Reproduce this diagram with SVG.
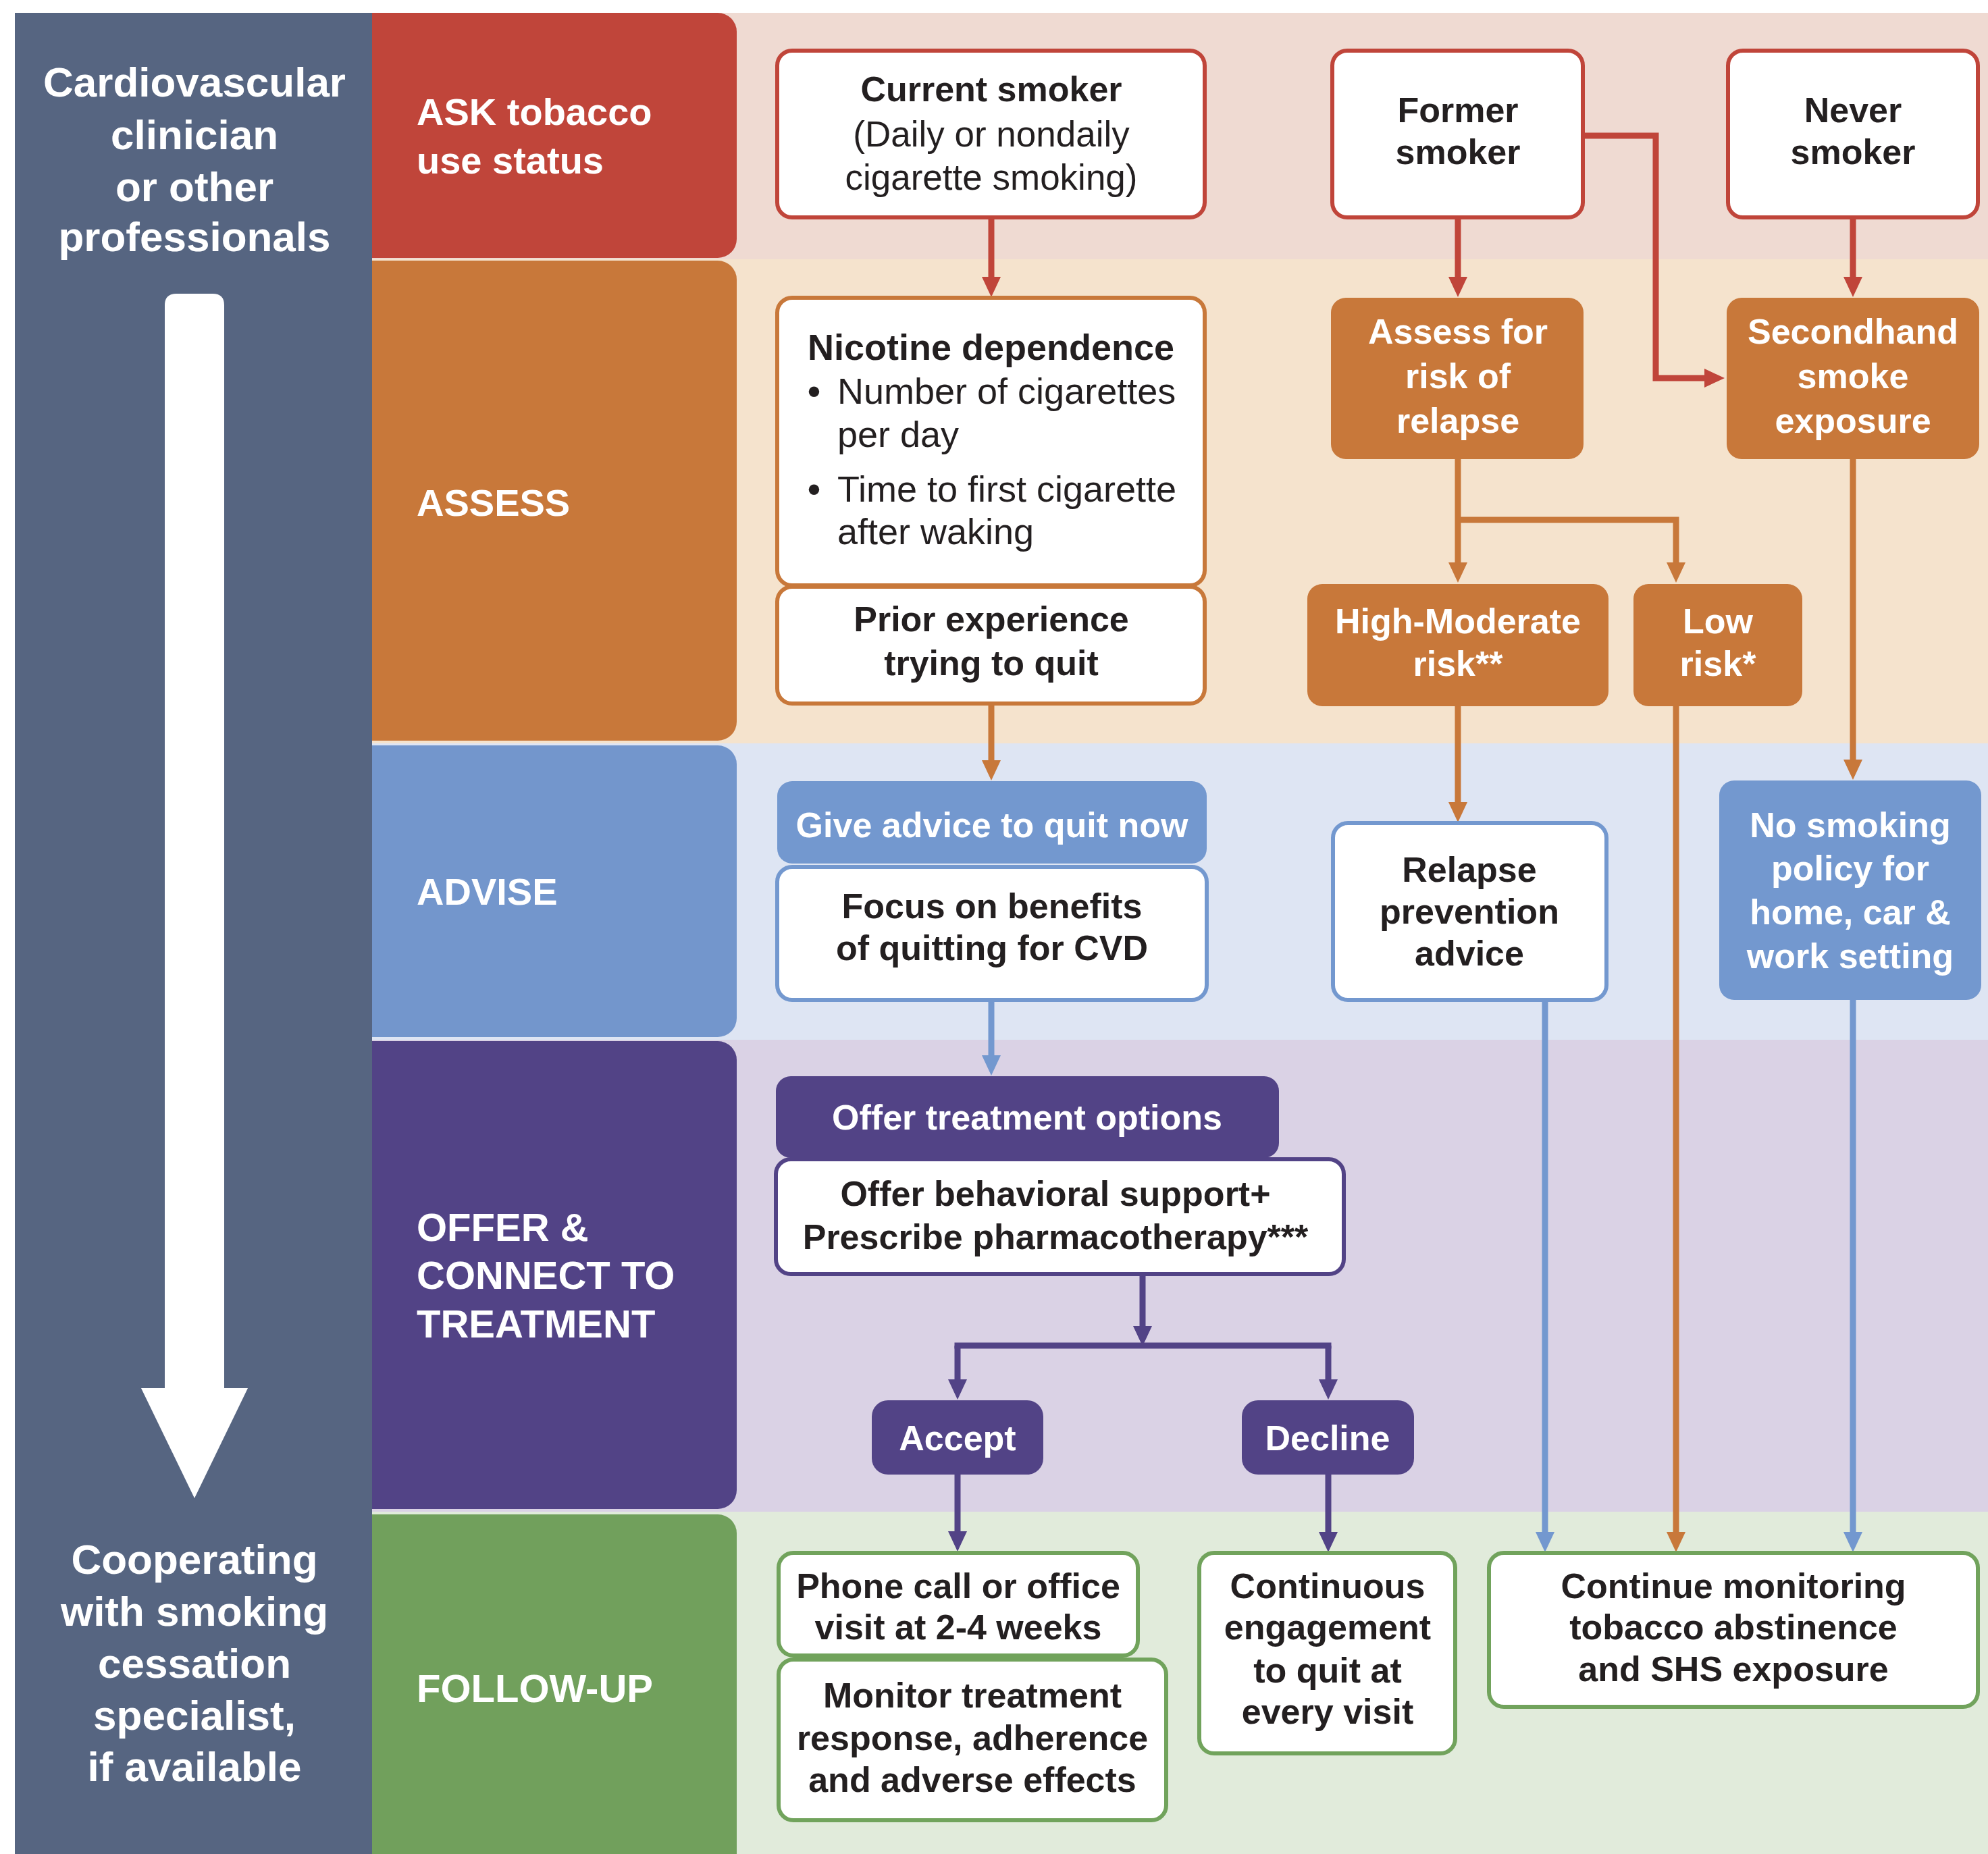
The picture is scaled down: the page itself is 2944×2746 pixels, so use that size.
<svg xmlns="http://www.w3.org/2000/svg" width="2944" height="2746" viewBox="0 0 2944 2746">
<style>
.ph{font-family:"Liberation Sans",Arial,sans-serif;font-weight:bold;font-size:56px;fill:#fff}
.ph2{font-family:"Liberation Sans",Arial,sans-serif;font-weight:bold;font-size:58px;fill:#fff}
.lc{font-family:"Liberation Sans",Arial,sans-serif;font-weight:bold;font-size:62px;fill:#fff;text-anchor:middle}
.t{font-family:"Liberation Sans",Arial,sans-serif;font-size:53px;fill:#231f20;text-anchor:middle}
.tb{font-family:"Liberation Sans",Arial,sans-serif;font-weight:bold;font-size:52px;fill:#231f20;text-anchor:middle}
.tl{font-family:"Liberation Sans",Arial,sans-serif;font-size:54px;fill:#231f20}
.w{font-family:"Liberation Sans",Arial,sans-serif;font-weight:bold;font-size:52px;fill:#fff;text-anchor:middle}
.bx{fill:#fff;stroke-width:6}
.red{stroke:#c0453a}.org{stroke:#c8783a}.blu{stroke:#7398cf}.pur{stroke:#524386}.grn{stroke:#71a35c}
.fo{fill:#c8783a}.fb{fill:#7398cf}.fp{fill:#524386}
.c{fill:none;stroke-width:9}
</style>
<defs>
<marker id="aR" markerUnits="userSpaceOnUse" markerWidth="30" markerHeight="28" viewBox="0 0 30 28" refX="6" refY="14" orient="auto"><path d="M0,0 L30,14 L0,28 z" fill="#c0453a"/></marker>
<marker id="aO" markerUnits="userSpaceOnUse" markerWidth="30" markerHeight="28" viewBox="0 0 30 28" refX="6" refY="14" orient="auto"><path d="M0,0 L30,14 L0,28 z" fill="#c8783a"/></marker>
<marker id="aB" markerUnits="userSpaceOnUse" markerWidth="30" markerHeight="28" viewBox="0 0 30 28" refX="6" refY="14" orient="auto"><path d="M0,0 L30,14 L0,28 z" fill="#7398cf"/></marker>
<marker id="aP" markerUnits="userSpaceOnUse" markerWidth="30" markerHeight="28" viewBox="0 0 30 28" refX="6" refY="14" orient="auto"><path d="M0,0 L30,14 L0,28 z" fill="#524386"/></marker>
</defs>
<rect x="0" y="0" width="2944" height="2746" fill="#fff"/>
<g id="bands">
<rect x="540" y="19" width="2404" height="366" fill="#efdad2"/>
<rect x="540" y="384" width="2404" height="717" fill="#f5e3cd"/>
<rect x="540" y="1101" width="2404" height="439" fill="#dee5f3"/>
<rect x="540" y="1540" width="2404" height="699" fill="#dad2e5"/>
<rect x="540" y="2239" width="2404" height="507" fill="#e1ebdb"/>
</g>
<g id="left-column">
<rect x="22" y="19" width="529" height="2727" fill="#566581"/>
<path d="M244,452 Q244,435 261,435 H315 Q332,435 332,452 V2056 H367 L288,2219 L209,2056 H244 Z" fill="#fff"/>
<text class="lc" x="288" y="143">Cardiovascular</text>
<text class="lc" x="288" y="221">clinician</text>
<text class="lc" x="288" y="298">or other</text>
<text class="lc" x="288" y="372">professionals</text>
<text class="lc" x="288" y="2331">Cooperating</text>
<text class="lc" x="288" y="2408">with smoking</text>
<text class="lc" x="288" y="2485">cessation</text>
<text class="lc" x="288" y="2562">specialist,</text>
<text class="lc" x="288" y="2638">if available</text>
</g>
<g id="phase-ask"><path d="M551,19 H1063 A28,28 0 0 1 1091,47 V354 A28,28 0 0 1 1063,382 H551 Z" fill="#c0453a"/>
<text class="ph" x="617" y="185">ASK tobacco</text><text class="ph" x="617" y="257">use status</text></g>
<g id="phase-assess"><path d="M551,386 H1063 A28,28 0 0 1 1091,414 V1069 A28,28 0 0 1 1063,1097 H551 Z" fill="#c8783a"/>
<text class="ph" x="617" y="764">ASSESS</text></g>
<g id="phase-advise"><path d="M551,1104 H1063 A28,28 0 0 1 1091,1132 V1508 A28,28 0 0 1 1063,1536 H551 Z" fill="#7396cc"/>
<text class="ph" x="617" y="1340">ADVISE</text></g>
<g id="phase-offer"><path d="M551,1542 H1063 A28,28 0 0 1 1091,1570 V2207 A28,28 0 0 1 1063,2235 H551 Z" fill="#524386"/>
<text class="ph2" x="617" y="1838">OFFER &amp;</text><text class="ph2" x="617" y="1909">CONNECT TO</text><text class="ph2" x="617" y="1981">TREATMENT</text></g>
<g id="phase-followup"><path d="M551,2243 H1063 A28,28 0 0 1 1091,2271 V2746 H551 Z" fill="#71a05c"/>
<text class="ph2" x="617" y="2521">FOLLOW-UP</text></g>
<g id="connectors">
<path class="c" stroke="#c0453a" d="M1468,322 V416" marker-end="url(#aR)"/>
<path class="c" stroke="#c0453a" d="M2159,322 V416" marker-end="url(#aR)"/>
<path class="c" stroke="#c0453a" d="M2744,322 V416" marker-end="url(#aR)"/>
<path class="c" stroke="#c0453a" d="M2344,201 H2452 V560 H2530" marker-end="url(#aR)"/>
<path class="c" stroke="#c8783a" d="M2159,680 V839" marker-end="url(#aO)"/>
<path class="c" stroke="#c8783a" d="M2159,770 H2482 V839" marker-end="url(#aO)"/>
<path class="c" stroke="#c8783a" d="M1468,1042 V1132" marker-end="url(#aO)"/>
<path class="c" stroke="#c8783a" d="M2744,680 V1131" marker-end="url(#aO)"/>
<path class="c" stroke="#c8783a" d="M2159,1046 V1194" marker-end="url(#aO)"/>
<path class="c" stroke="#c8783a" d="M2482,1046 V2275" marker-end="url(#aO)"/>
<path class="c" stroke="#7398cf" d="M1468,1481 V1569" marker-end="url(#aB)"/>
<path class="c" stroke="#7398cf" d="M2288,1481 V2275" marker-end="url(#aB)"/>
<path class="c" stroke="#7398cf" d="M2744,1481 V2275" marker-end="url(#aB)"/>
<path class="c" stroke="#524386" d="M1692,1887 V1970" marker-end="url(#aP)"/>
<path class="c" stroke="#524386" d="M1413.5,1993 H1971.5"/>
<path class="c" stroke="#524386" d="M1418,1993 V2049" marker-end="url(#aP)"/>
<path class="c" stroke="#524386" d="M1967,1993 V2049" marker-end="url(#aP)"/>
<path class="c" stroke="#524386" d="M1418,2184 V2274" marker-end="url(#aP)"/>
<path class="c" stroke="#524386" d="M1967,2184 V2275" marker-end="url(#aP)"/>
</g>
<g id="current-smoker"><rect class="bx red" x="1151" y="75" width="633" height="247" rx="22"/>
<text class="tb" x="1468" y="150">Current smoker</text><text class="t" x="1468" y="217">(Daily or nondaily</text><text class="t" x="1468" y="281">cigarette smoking)</text></g>
<g id="former-smoker"><rect class="bx red" x="1973" y="75" width="371" height="247" rx="22"/>
<text class="tb" x="2159" y="181">Former</text><text class="tb" x="2159" y="243">smoker</text></g>
<g id="never-smoker"><rect class="bx red" x="2559" y="75" width="370" height="247" rx="22"/>
<text class="tb" x="2744" y="181">Never</text><text class="tb" x="2744" y="243">smoker</text></g>
<g id="nicotine"><rect class="bx org" x="1151" y="441" width="633" height="426" rx="22"/>
<text class="tl" x="1196" y="533" font-weight="bold">Nicotine dependence</text>
<text class="tl" x="1196" y="598" font-weight="bold">•</text><text class="tl" x="1240" y="598">Number of cigarettes</text>
<text class="tl" x="1240" y="662">per day</text>
<text class="tl" x="1196" y="743" font-weight="bold">•</text><text class="tl" x="1240" y="743">Time to first cigarette</text>
<text class="tl" x="1240" y="806">after waking</text></g>
<g id="prior-experience"><rect class="bx org" x="1151" y="869" width="633" height="173" rx="22"/>
<text class="tb" x="1468" y="935">Prior experience</text><text class="tb" x="1468" y="1000">trying to quit</text></g>
<g id="assess-relapse"><rect class="fo" x="1971" y="441" width="374" height="239" rx="22"/>
<text class="w" x="2159" y="509">Assess for</text><text class="w" x="2159" y="575">risk of</text><text class="w" x="2159" y="641">relapse</text></g>
<g id="secondhand"><rect class="fo" x="2557" y="441" width="374" height="239" rx="22"/>
<text class="w" x="2744" y="509">Secondhand</text><text class="w" x="2744" y="575">smoke</text><text class="w" x="2744" y="641">exposure</text></g>
<g id="high-moderate"><rect class="fo" x="1936" y="865" width="446" height="181" rx="22"/>
<text class="w" x="2159" y="938">High-Moderate</text><text class="w" x="2159" y="1001">risk**</text></g>
<g id="low-risk"><rect class="fo" x="2419" y="865" width="250" height="181" rx="22"/>
<text class="w" x="2544" y="938">Low</text><text class="w" x="2544" y="1001">risk*</text></g>
<g id="give-advice"><rect class="fb" x="1151" y="1157" width="636" height="122" rx="22"/>
<text class="w" x="1469" y="1240">Give advice to quit now</text></g>
<g id="focus-benefits"><rect class="bx blu" x="1151" y="1284" width="636" height="197" rx="22"/>
<text class="tb" x="1469" y="1360">Focus on benefits</text><text class="tb" x="1469" y="1422">of quitting for CVD</text></g>
<g id="relapse-prevention"><rect class="bx blu" x="1974" y="1219" width="405" height="262" rx="22"/>
<text class="tb" x="2176" y="1306">Relapse</text><text class="tb" x="2176" y="1368">prevention</text><text class="tb" x="2176" y="1430">advice</text></g>
<g id="no-smoking-policy"><rect class="fb" x="2546" y="1156" width="388" height="325" rx="22"/>
<text class="w" x="2740" y="1240">No smoking</text><text class="w" x="2740" y="1304">policy for</text><text class="w" x="2740" y="1369">home, car &amp;</text><text class="w" x="2740" y="1434">work setting</text></g>
<g id="offer-options"><rect class="fp" x="1149" y="1594" width="745" height="121" rx="22"/>
<text class="w" x="1521" y="1673">Offer treatment options</text></g>
<g id="offer-behavioral"><rect class="bx pur" x="1149" y="1717" width="841" height="170" rx="22"/>
<text class="tb" x="1563" y="1786">Offer behavioral support+</text><text class="tb" x="1563" y="1850">Prescribe pharmacotherapy***</text></g>
<g id="accept"><rect class="fp" x="1291" y="2074" width="254" height="110" rx="24"/>
<text class="w" x="1418" y="2148">Accept</text></g>
<g id="decline"><rect class="fp" x="1839" y="2074" width="255" height="110" rx="24"/>
<text class="w" x="1966" y="2148">Decline</text></g>
<g id="phone-call"><rect class="bx grn" x="1153" y="2300" width="532" height="152" rx="22"/>
<text class="tb" x="1419" y="2367">Phone call or office</text><text class="tb" x="1419" y="2428">visit at 2-4 weeks</text></g>
<g id="monitor-treatment"><rect class="bx grn" x="1153" y="2458" width="574" height="238" rx="22"/>
<text class="tb" x="1440" y="2529">Monitor treatment</text><text class="tb" x="1440" y="2592">response, adherence</text><text class="tb" x="1440" y="2654">and adverse effects</text></g>
<g id="continuous-engagement"><rect class="bx grn" x="1776" y="2300" width="379" height="297" rx="22"/>
<text class="tb" x="1966" y="2367">Continuous</text><text class="tb" x="1966" y="2428">engagement</text><text class="tb" x="1966" y="2492">to quit at</text><text class="tb" x="1966" y="2553">every visit</text></g>
<g id="continue-monitoring"><rect class="bx grn" x="2205" y="2300" width="724" height="228" rx="22"/>
<text class="tb" x="2567" y="2367">Continue monitoring</text><text class="tb" x="2567" y="2428">tobacco abstinence</text><text class="tb" x="2567" y="2490">and SHS exposure</text></g>
</svg>
